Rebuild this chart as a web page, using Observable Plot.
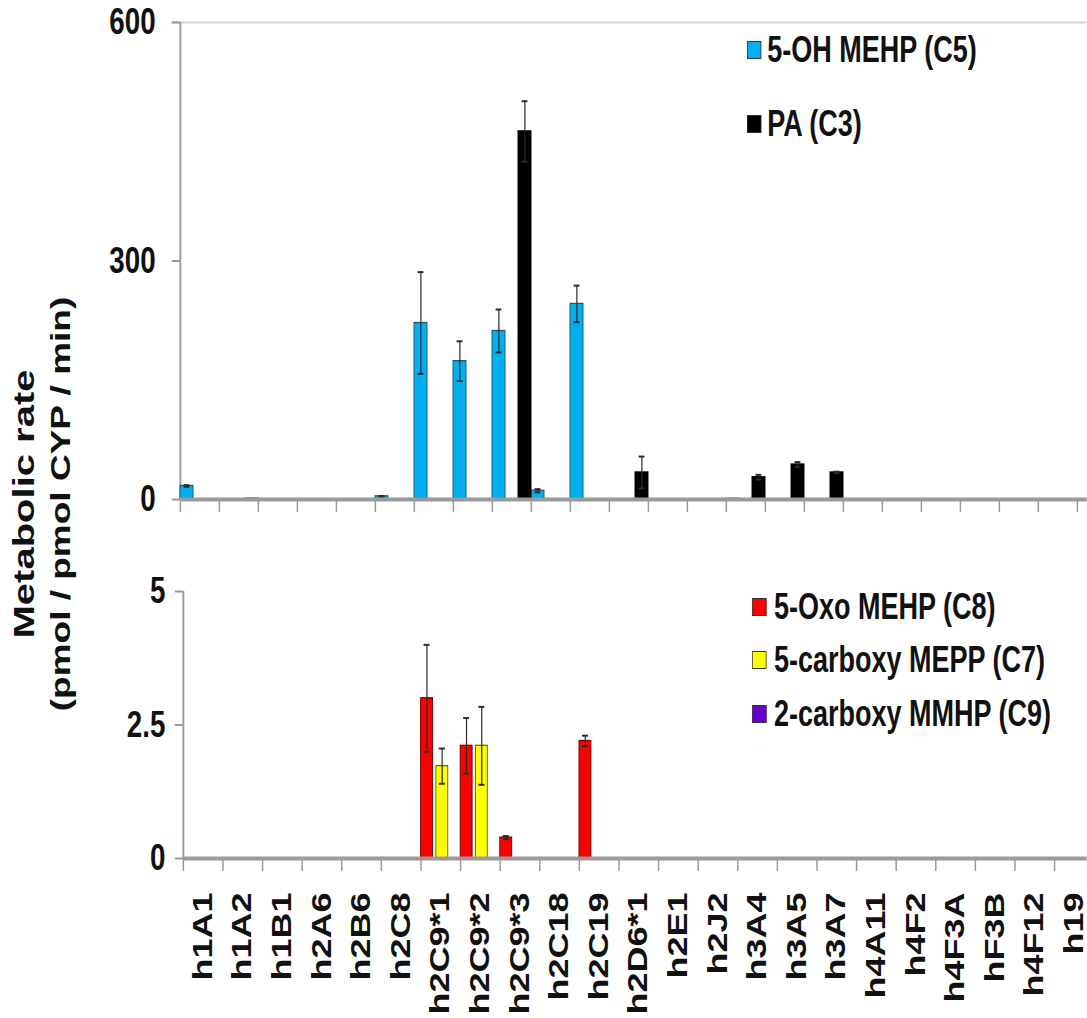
<!DOCTYPE html>
<html>
<head>
<meta charset="utf-8">
<script src="https://cdn.jsdelivr.net/npm/d3@7"></script>
<script src="https://cdn.jsdelivr.net/npm/@observablehq/plot@0.6"></script>
<style>
  html, body { margin: 0; padding: 0; background: #fff; overflow: hidden; }
  #wrap { position: relative; width: 1449px; height: 1018px; transform: scaleX(0.75); transform-origin: 0 0;
          font-family: "Liberation Sans", Arial, Helvetica, sans-serif; font-weight: bold; color: #111; }
  .panel { position: absolute; left: 0; }
  .legend-item { position: absolute; display: flex; align-items: center; height: 44px; font-size: 36px; white-space: nowrap; }
  .swatch { display: inline-block; width: 17px; height: 16px; border: 1.5px solid #333; }
  #ytitle { position: absolute; left: 56px; top: 504px; transform: translate(-50%, -50%) rotate(-90deg);
            text-align: center; white-space: nowrap; line-height: 49px; }
</style>
</head>
<body>
<div id="wrap">
  <div id="ytitle"><div style="font-size:40px">Metabolic rate</div><div style="font-size:37px">(pmol / pmol CYP / min)</div></div>
</div>
<script>
// ---- data ----
const categories = ["h1A1","h1A2","h1B1","h2A6","h2B6","h2C8","h2C9*1","h2C9*2","h2C9*3","h2C18","h2C19","h2D6*1","h2E1","h2J2","h3A4","h3A5","h3A7","h4A11","h4F2","h4F3A","hF3B","h4F12","h19"];

const oh5Mehp     = [17, 0, 0, 0, 0, 4, 222, 174, 212, 11, 246, 0, 0, 0, 1, 0, 0, 0, 0, 0, 0, 0, 0];
const oh5MehpErr  = [1, 0, 0, 0, 0, 0.5, 64, 25, 27, 2, 23, 0, 0, 0, 0, 0, 0, 0, 0, 0, 0, 0, 0];
const pa          = [0, 1, 0, 0, 0, 0, 0, 0, 463, 0, 0, 34, 0, 0, 28, 44, 34, 0, 0, 0, 0, 0, 0];
const paErr       = [0, 0, 0, 0, 0, 0, 0, 0, 38, 0, 0, 20, 0, 0, 3, 3, 1, 0, 0, 0, 0, 0, 0];

const oxoMehp        = [0, 0, 0, 0, 0, 0, 3.0, 2.11, 0.39, 0, 2.2, 0, 0, 0, 0, 0, 0, 0, 0, 0, 0, 0, 0];
const oxoMehpErr     = [0, 0, 0, 0, 0, 0, 1.0, 0.52, 0.03, 0, 0.1, 0, 0, 0, 0, 0, 0, 0, 0, 0, 0, 0, 0];
const carboxyMepp    = [0, 0, 0, 0, 0, 0, 1.73, 2.11, 0, 0, 0, 0, 0, 0, 0, 0, 0, 0, 0, 0, 0, 0, 0];
const carboxyMeppErr = [0, 0, 0, 0, 0, 0, 0.33, 0.73, 0, 0, 0, 0, 0, 0, 0, 0, 0, 0, 0, 0, 0, 0, 0];
const carboxyMmhp    = [0, 0, 0, 0, 0, 0, 0, 0, 0, 0, 0, 0, 0, 0, 0, 0, 0, 0, 0, 0, 0, 0, 0];
const carboxyMmhpErr = [0, 0, 0, 0, 0, 0, 0, 0, 0, 0, 0, 0, 0, 0, 0, 0, 0, 0, 0, 0, 0, 0, 0];

const topTicks = [0, 300, 600];
const bottomTicks = [0, 2.5, 5];

const topSeries = [
  {name: "5-OH MEHP (C5)", values: oh5Mehp, errors: oh5MehpErr, fill: "#00B0F0", stroke: "#1d5a72", slot: 0},
  {name: "PA (C3)", values: pa, errors: paErr, fill: "#000000", stroke: "#000000", slot: 2}
];
const bottomSeries = [
  {name: "5-Oxo MEHP (C8)", values: oxoMehp, errors: oxoMehpErr, fill: "#FF0000", stroke: "#7a0000", slot: 0},
  {name: "5-carboxy MEPP (C7)", values: carboxyMepp, errors: carboxyMeppErr, fill: "#FFFF00", stroke: "#6b6b00", slot: 1},
  {name: "2-carboxy MMHP (C9)", values: carboxyMmhp, errors: carboxyMmhpErr, fill: "#6600CC", stroke: "#2a0060", slot: 2}
];

const W = 1449;
const FONT = "'Liberation Sans', Arial, Helvetica, sans-serif";

function panel(cfg) {
  const {series, yDomain, yTicks, height, marginTop, marginBottom, marginLeft, xMax,
         slotStep, slotWidth, showLabels, topBorder, tickPadding} = cfg;
  const marks = [];
  if (topBorder) marks.push(Plot.ruleY([yDomain[1]], {stroke: "#d6d6d6", strokeWidth: 2, insetLeft: -11}));
  marks.push(Plot.ruleX([0], {stroke: "#9a9a9a", strokeWidth: 2.5}));
  const allRows = [];
  for (const s of series) {
    const rows = [];
    s.values.forEach((v, i) => {
      if (!(v > 0)) return;
      const x1 = i + s.slot * slotStep;
      rows.push({cat: categories[i], series: s.name, value: v, err: s.errors[i], x1, x2: x1 + slotWidth, xc: x1 + slotWidth / 2});
    });
    marks.push(Plot.rect(rows, {x1: "x1", x2: "x2", y1: 0, y2: "value", fill: s.fill, stroke: s.stroke, strokeWidth: 1.3}));
    allRows.push(...rows);
  }
  const errRows = allRows.filter(d => d.err > 0);
  const capHalf = 0.075;
  marks.push(Plot.ruleX(errRows, {x: "xc", y1: d => d.value - d.err, y2: d => d.value + d.err, stroke: "#2a2a2a", strokeWidth: 1.6}));
  marks.push(Plot.ruleY(errRows, {y: d => d.value + d.err, x1: d => d.xc - capHalf, x2: d => d.xc + capHalf, stroke: "#2a2a2a", strokeWidth: 2}));
  marks.push(Plot.ruleY(errRows, {y: d => d.value - d.err, x1: d => d.xc - capHalf, x2: d => d.xc + capHalf, stroke: "#2a2a2a", strokeWidth: 2}));
  marks.push(Plot.ruleY([0], {stroke: "#9a9a9a", strokeWidth: 4}));
  marks.push(Plot.axisY({ticks: yTicks, tickSize: 11, tickPadding, fontSize: 37, fontWeight: "bold",
                         stroke: "#9a9a9a", strokeWidth: 2, fill: "#111", label: null, tickFormat: d => String(d)}));
  const boundaries = d3.range(0, categories.length + 1).filter(b => b <= xMax);
  marks.push(Plot.axisX({ticks: boundaries, tickSize: 13, stroke: "#9a9a9a", strokeWidth: 2, label: null, tickFormat: () => ""}));
  if (showLabels) {
    const centers = categories.map((c, i) => i + 0.5);
    marks.push(Plot.axisX({ticks: centers, tickSize: 0, tickPadding: 34, tickRotate: -90, fontSize: 36, fontWeight: "bold",
                           fill: "#111", label: null, tickFormat: t => categories[Math.floor(t)]}));
  }
  return Plot.plot({
    width: W, height, marginTop, marginBottom, marginLeft, marginRight: 0,
    x: {domain: [0, xMax]},
    y: {domain: yDomain},
    style: {background: "transparent", overflow: "visible", maxWidth: "none", fontFamily: FONT, color: "#111"},
    marks
  });
}

const wrap = document.getElementById("wrap");

const topPanel = panel({series: topSeries, yDomain: [0, 600], yTicks: topTicks, height: 540, marginTop: 22, marginBottom: 41,
                   marginLeft: 240, xMax: (W - 240) / 52, slotStep: 1 / 3, slotWidth: 1 / 3, showLabels: false,
                   topBorder: true, tickPadding: 22});
topPanel.classList.add("panel"); topPanel.style.top = "0px";
wrap.appendChild(topPanel);

const bottomPanel = panel({series: bottomSeries, yDomain: [0, 5], yTicks: bottomTicks, height: 478, marginTop: 51, marginBottom: 160,
                      marginLeft: 244, xMax: (W - 244) / 52.8, slotStep: 0.385, slotWidth: 0.3, showLabels: true,
                      topBorder: false, tickPadding: 13});
bottomPanel.classList.add("panel"); bottomPanel.style.top = "540px";
wrap.appendChild(bottomPanel);

// legends
function legend(series, left, textGap, centers) {
  series.forEach((s, k) => {
    const item = document.createElement("div");
    item.className = "legend-item";
    item.style.left = left + "px";
    item.style.top = (centers[k] - 22) + "px";
    const sw = document.createElement("span");
    sw.className = "swatch";
    sw.style.background = s.fill;
    sw.style.marginRight = textGap + "px";
    const tx = document.createElement("span");
    tx.textContent = s.name;
    item.appendChild(sw); item.appendChild(tx);
    wrap.appendChild(item);
  });
}
legend(topSeries, 996, 8, [50, 124]);
legend(bottomSeries, 1003, 10, [607, 660, 714]);
</script>
</body>
</html>
